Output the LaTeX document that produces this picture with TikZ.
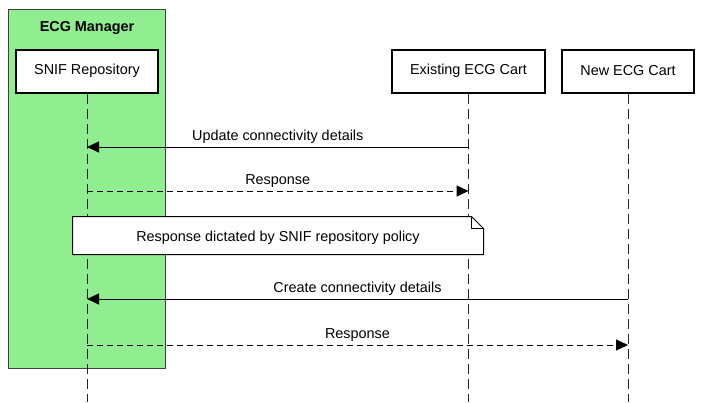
\documentclass[tikz,border=0pt]{standalone}
\usepackage{fontspec}
\setmainfont{Liberation Sans}
\usetikzlibrary{arrows.meta}
\definecolor{mgrgreen}{HTML}{90EE90}

\begin{document}
\begin{tikzpicture}[x=1pt, y=-1pt, line width=1pt,
    every node/.style={font=\fontsize{14.4}{17}\selectfont},
    actor/.style={draw=black, line width=2pt, fill=white, minimum height=43pt},
    lifeline/.style={draw=black!85, dash pattern=on 10pt off 5pt},
    msg/.style={-{Triangle[length=12pt,width=11pt]}, black},
    reply/.style={msg, dash pattern=on 6pt off 4pt}]
    \useasboundingbox (0,0) rectangle (702,402);

    % group
    \draw[draw=black!75, fill=mgrgreen] (8,9) rectangle (165,368);
    \node[font=\fontsize{14.4}{17}\selectfont\bfseries] (mgr) at (87,27.5) {ECG Manager};

    % participants
    \node[actor, minimum width=142pt] (snif) at (87,71) {SNIF Repository};
    \node[actor, minimum width=153pt] (old) at (468.5,71) {Existing ECG Cart};
    \node[actor, minimum width=132pt] (new) at (628,71) {New ECG Cart};

    \foreach \who in {snif,old,new}{
      \coordinate (\who-end) at (\who.south |- 0,402);
      \draw[lifeline] (\who.south) -- (\who-end);
    }

    % messages
    \foreach \y/\from/\to/\sty/\txt in {147/old/snif/msg/Update connectivity details,
        191/snif/old/reply/Response,
        299/new/snif/msg/Create connectivity details,
        345/snif/new/reply/Response}{
      \coordinate (\from-\y) at (\from.south |- 0,\y);
      \coordinate (\to-\y) at (\to.south |- 0,\y);
      \draw[\sty] (\from-\y) -- node[above=0pt] {\txt} (\to-\y);
    }

    % note
    \node[fill=white, minimum width=410pt, minimum height=37pt, text height=12pt, text depth=1pt] (note) at (278,235.5)
      {Response dictated by SNIF repository policy};
    \draw (note.north west) -- ([xshift=-12pt]note.north east)
      -- ([yshift=-12pt]note.north east) -- (note.south east)
      -- (note.south west) -- cycle;
    \draw ([xshift=-12pt]note.north east) -- ++(0,12) -- ([yshift=-12pt]note.north east);
\end{tikzpicture}
\end{document}
